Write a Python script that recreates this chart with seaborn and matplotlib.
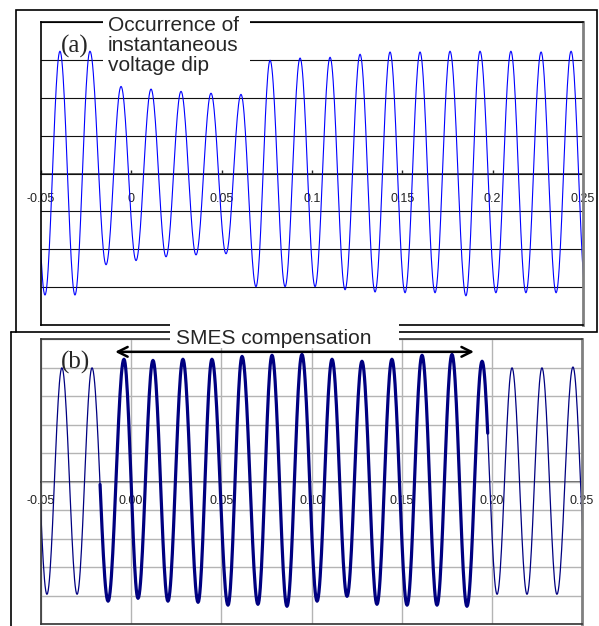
import numpy as np
import pandas as pd
import matplotlib.pyplot as plt
import seaborn as sns
from matplotlib.patches import Rectangle
from matplotlib.lines import Line2D

sns.set_style('white')
plt.rcParams['font.family'] = ['Liberation Sans', 'DejaVu Sans']

# (a) half-cycle extrema of the voltage during the dip (time s, grid units)
a_times = [-0.0561, -0.0478, -0.0395, -0.0312, -0.0229, -0.0140, -0.0057, 0.0026,
           0.0109, 0.0192, 0.0275, 0.0358, 0.0441, 0.0524, 0.0607, 0.0690,
           0.0768, 0.0851, 0.0934, 0.1017, 0.1100, 0.1183, 0.1266, 0.1349,
           0.1432, 0.1515, 0.1598, 0.1681, 0.1764, 0.1852, 0.1930, 0.2018,
           0.2101, 0.2184, 0.2268, 0.2351, 0.2434, 0.2517]
a_values = [3.24, -3.21, 3.23, -3.21, 3.23, -2.41, 2.30, -2.30,
            2.23, -2.20, 2.17, -2.15, 2.12, -2.12, 2.09, -2.99,
            2.99, -2.99, 3.05, -2.99, 3.07, -3.07, 3.15, -3.13,
            3.21, -3.15, 3.21, -3.15, 3.23, -3.23, 3.23, -3.15,
            3.23, -3.15, 3.21, -3.15, 3.23, -3.20]

# (b) half-cycle extrema with SMES compensation
b_times = [-0.0550, -0.0467, -0.0384, -0.0300, -0.0217, -0.0128, -0.0040, 0.0038,
           0.0121, 0.0204, 0.0287, 0.0371, 0.0448, 0.0537, 0.0615, 0.0703,
           0.0781, 0.0864, 0.0947, 0.1031, 0.1114, 0.1197, 0.1280, 0.1363,
           0.1446, 0.1530, 0.1613, 0.1696, 0.1779, 0.1862, 0.1946, 0.2029,
           0.2112, 0.2195, 0.2278, 0.2361, 0.2450, 0.2533]
b_values = [3.99, -3.96, 3.99, -3.96, 3.99, -4.20, 4.29, -4.10,
            4.25, -4.20, 4.29, -4.24, 4.29, -4.34, 4.39, -4.31,
            4.43, -4.38, 4.46, -4.20, 4.29, -4.03, 4.22, -4.31,
            4.29, -4.34, 4.43, -4.34, 4.46, -4.38, 4.22, -3.96,
            3.99, -3.96, 3.99, -3.96, 4.02, -3.96]
comp_start, comp_end = -0.0175, 0.198
arrow_from, arrow_to = -0.0089, 0.1901

xticks = [-0.05, 0.0, 0.05, 0.10, 0.15, 0.20, 0.25]
a_ticklabels = ['-0.05', '0', '0.05', '0.1', '0.15', '0.2', '0.25']
b_ticklabels = ['-0.05', '0.00', '0.05', '0.10', '0.15', '0.20', '0.25']


def waveform(times, values, n=24):
    # sinusoidal half-cycle between consecutive extrema
    t_out, v_out = [], []
    for i in range(len(times) - 1):
        s = np.linspace(0, 1, n, endpoint=False)
        ease = (1 - np.cos(np.pi * s)) / 2
        t_out.append(times[i] + (times[i + 1] - times[i]) * s)
        v_out.append(values[i] + (values[i + 1] - values[i]) * ease)
    t_out.append([times[-1]])
    v_out.append([values[-1]])
    return pd.DataFrame({'t': np.concatenate(t_out), 'v': np.concatenate(v_out)})


def main():
    W, H = 599, 626
    fig = plt.figure(figsize=(W / 100, H / 100), dpi=100)
    ax_a = fig.add_axes([41 / W, 1 - 325 / H, 542 / W, 303 / H])
    ax_b = fig.add_axes([41 / W, 1 - 624 / H, 541 / W, 285 / H])

    # ---- panel (a)
    wave_a = waveform(a_times, a_values)
    sns.lineplot(data=wave_a, x='t', y='v', ax=ax_a, color='#0000ff', lw=0.8,
                 estimator=None, sort=False)
    ax_a.set(xlim=(-0.05, 0.25), ylim=(-4, 4), xlabel='', ylabel='')
    ax_a.set_yticks(range(-4, 5))
    ax_a.set_xticks([])
    ax_a.grid(True, axis='y', color='#111111', lw=0.8)
    ax_a.tick_params(left=False, labelleft=False, bottom=False, labelbottom=False)
    for side in ['top', 'left', 'bottom']:
        ax_a.spines[side].set(color='black', lw=1.2)
    ax_a.spines['right'].set(color='#808080', lw=2)

    sec_a = ax_a.secondary_xaxis(0.5)
    sec_a.set_alignment('bottom')
    sec_a.set_xticks(xticks, labels=a_ticklabels)
    sec_a.tick_params(direction='in', length=3, width=1, pad=14, labelsize=9,
                      colors='#222222')
    sec_a.spines['bottom'].set(color='#444444', lw=1.2)

    # ---- panel (b)
    wave_b = waveform(b_times, b_values)
    in_comp = (wave_b['t'] >= comp_start) & (wave_b['t'] <= comp_end)
    sns.lineplot(data=wave_b, x='t', y='v', ax=ax_b, color='#000080', lw=0.9,
                 estimator=None, sort=False)
    sns.lineplot(data=wave_b[in_comp], x='t', y='v', ax=ax_b, color='#000080', lw=2.3,
                 estimator=None, sort=False)
    ax_b.set(xlim=(-0.05, 0.25), ylim=(-5, 5), xlabel='', ylabel='')
    ax_b.set_yticks(range(-5, 6))
    ax_b.set_xticks(xticks)
    ax_b.grid(True, color='#b4b4b4', lw=1)
    ax_b.set_axisbelow(True)
    ax_b.tick_params(left=False, labelleft=False, bottom=False, labelbottom=False)
    for side in ['top', 'left', 'bottom']:
        ax_b.spines[side].set(color='#333333', lw=1.2)
    ax_b.spines['right'].set(color='#808080', lw=2)

    sec_b = ax_b.secondary_xaxis(0.5)
    sec_b.set_alignment('bottom')
    sec_b.set_xticks(xticks, labels=b_ticklabels)
    sec_b.tick_params(direction='in', length=0, pad=10, labelsize=9,
                      colors='#222222')
    sec_b.spines['bottom'].set(color='#555555', lw=1.3)

    ax_b.annotate('', xy=(arrow_from, 4.55), xytext=(arrow_to, 4.55),
                  arrowprops=dict(arrowstyle='<->,head_length=0.7,head_width=0.35',
                                  color='black', lw=1.8, shrinkA=0, shrinkB=0),
                  annotation_clip=False)

    # ---- frames and labels
    fig.add_artist(Rectangle((16 / W, 1 - 332 / H), 581 / W, 322 / H,
                             transform=fig.transFigure, fill=False, ec='black', lw=1.2))
    fig.add_artist(Line2D([11 / W, 11 / W], [0, 1 - 332 / H], color='black', lw=1.2))
    fig.add_artist(Line2D([11 / W, 16 / W], [1 - 332 / H] * 2, color='black', lw=1.2))

    fig.add_artist(Rectangle((103 / W, 1 - 79 / H), 147 / W, 65 / H,
                             transform=fig.transFigure, fc='white', ec='none', zorder=2))
    fig.text(108 / W, 1 - 16 / H, 'Occurrence of\ninstantaneous\nvoltage dip',
             ha='left', va='top', fontsize=15, linespacing=1.07, zorder=3)

    fig.add_artist(Rectangle((170 / W, 1 - 348 / H), 229 / W, 28 / H,
                             transform=fig.transFigure, fc='white', ec='none', zorder=2))
    fig.text(274 / W, 1 - 338 / H, 'SMES compensation', ha='center', va='center',
             fontsize=15, zorder=3)

    fig.text(75 / W, 1 - 46 / H, '(a)', ha='center', va='center', fontsize=18,
             family=['Liberation Serif', 'DejaVu Serif'], zorder=3)
    fig.text(75 / W, 1 - 362 / H, '(b)', ha='center', va='center', fontsize=18,
             family=['Liberation Serif', 'DejaVu Serif'], zorder=3)

    fig.savefig('out.png', dpi=100)


if __name__ == '__main__':
    main()
